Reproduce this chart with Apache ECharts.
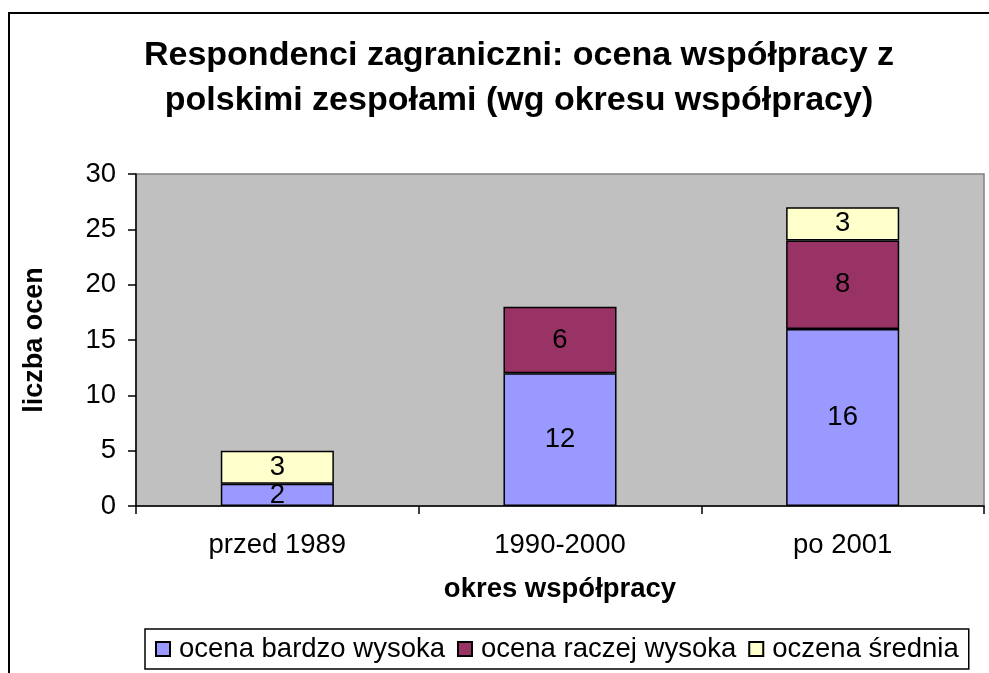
<!DOCTYPE html>
<html>
<head>
<meta charset="utf-8">
<script src="https://cdn.jsdelivr.net/npm/echarts@6/dist/echarts.min.js"></script>
<style>
html,body{margin:0;padding:0;background:#fff;}
#chart{width:989px;height:673px;}
</style>
</head>
<body>
<div id="chart"></div>
<script>
const categories = ['przed 1989', '1990-2000', 'po 2001'];
const bardzoWysoka = [2, 12, 16];
const raczejWysoka = [null, 6, 8];
const srednia = [3, null, 3];
const seriesNames = ['ocena bardzo wysoka', 'ocena raczej wysoka', 'oczena średnia'];
const yTicks = {min: 0, max: 30, interval: 5};

const FONT = '"Liberation Sans", Arial, sans-serif';
const chart = echarts.init(document.getElementById('chart'));

function barSeries(name, data, color) {
  return {
    name: name,
    type: 'bar',
    stack: 'total',
    data: data,
    barWidth: '40%',
    itemStyle: {color: color, borderColor: '#000', borderWidth: 1.5},
    label: {
      show: true, position: 'inside', color: '#000',
      fontFamily: FONT, fontSize: 27.5,
      formatter: p => (p.value == null ? '' : p.value)
    },
    emphasis: {disabled: true}
  };
}

chart.setOption({
  animation: false,
  backgroundColor: '#fff',
  textStyle: {fontFamily: FONT, color: '#000'},
  title: {
    text: 'Respondenci zagraniczni: ocena współpracy z\npolskimi zespołami (wg okresu współpracy)',
    left: 514,
    top: 28,
    textAlign: 'center',
    textStyle: {fontFamily: FONT, fontSize: 34, fontWeight: 'bold', color: '#000', lineHeight: 45}
  },
  graphic: [{
    type: 'rect',
    shape: {x: 9, y: 13, width: 1100, height: 800},
    style: {fill: 'none', stroke: '#000', lineWidth: 2},
    silent: true, z: -1
  }],
  legend: {
    data: seriesNames,
    left: 145,
    top: 629,
    orient: 'horizontal',
    borderColor: '#000',
    borderWidth: 1.5,
    padding: [6, 10, 6, 10],
    itemWidth: 14,
    itemHeight: 14,
    itemGap: 12,
    icon: 'rect',
    textStyle: {fontFamily: FONT, fontSize: 27.5, color: '#000', padding: [0, 0, 0, 4]},
    selectedMode: false
  },
  grid: {
    left: 136, right: 5, top: 174, bottom: 167,
    show: true, backgroundColor: '#c0c0c0', borderColor: '#808080', borderWidth: 1.5,
    containLabel: false
  },
  xAxis: {
    type: 'category',
    data: categories,
    boundaryGap: true,
    name: 'okres współpracy',
    nameLocation: 'middle',
    nameGap: 69,
    nameTextStyle: {fontFamily: FONT, fontSize: 27.5, fontWeight: 'bold', color: '#000'},
    axisLine: {lineStyle: {color: '#000', width: 1.5}},
    axisTick: {show: true, length: 8, lineStyle: {color: '#000', width: 1.5}},
    axisLabel: {fontFamily: FONT, fontSize: 27.5, color: '#000', margin: 25}
  },
  yAxis: {
    type: 'value',
    min: yTicks.min, max: yTicks.max, interval: yTicks.interval,
    name: 'liczba ocen',
    nameLocation: 'middle',
    nameGap: 88,
    nameRotate: 90,
    nameTextStyle: {fontFamily: FONT, fontSize: 27, fontWeight: 'bold', color: '#000'},
    axisLine: {show: true, lineStyle: {color: '#000', width: 1.5}},
    axisTick: {show: true, length: 8, lineStyle: {color: '#000', width: 1.5}},
    axisLabel: {fontFamily: FONT, fontSize: 27.5, color: '#000', margin: 20},
    splitLine: {show: false}
  },
  series: [
    barSeries(seriesNames[0], bardzoWysoka, '#9999ff'),
    barSeries(seriesNames[1], raczejWysoka, '#993366'),
    barSeries(seriesNames[2], srednia, '#ffffcc')
  ]
});
</script>
</body>
</html>
